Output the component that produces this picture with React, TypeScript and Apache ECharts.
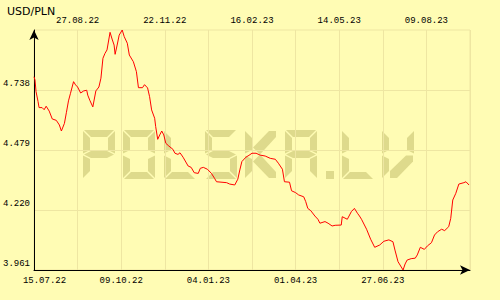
import React, { useEffect, useRef } from "react";
import * as echarts from "echarts";

// ---- data ----
const TITLE = "USD/PLN";
const X_MIN = 0; // day offset of 15.07.22
const X_MAX = 430;
const X_STEP = 43;
const BOTTOM_LABELS = ["15.07.22", "09.10.22", "04.01.23", "01.04.23", "27.06.23"];
const TOP_LABELS = ["27.08.22", "22.11.22", "16.02.23", "14.05.23", "09.08.23"];
const Y_MIN = 3.961;
const Y_MAX = 4.997;
const Y_TICKS = [3.961, 4.22, 4.479, 4.738];
const WATERMARK = "POLSKA.LV";

// [day offset from 15.07.22, USD/PLN rate]
const USD_PLN: [number, number][] = [
  [0, 4.795], [1, 4.781], [2, 4.731], [4, 4.688], [5, 4.662], [8, 4.662], [10, 4.653],
  [12, 4.668], [15, 4.647], [18, 4.613], [22, 4.607], [25, 4.587], [27, 4.561], [30, 4.594],
  [32, 4.642], [34, 4.691], [36, 4.724], [39, 4.774], [41, 4.76], [43, 4.751], [46, 4.725],
  [49, 4.734], [52, 4.737], [53, 4.716], [55, 4.694], [58, 4.665], [61, 4.734], [64, 4.751],
  [66, 4.789], [68, 4.875], [70, 4.896], [72, 4.911], [75, 4.987], [77, 4.958], [79, 4.932],
  [80, 4.892], [82, 4.932], [84, 4.975], [87, 4.997], [89, 4.968], [92, 4.94], [94, 4.889],
  [98, 4.86], [101, 4.817], [103, 4.748], [107, 4.748], [109, 4.761], [112, 4.747], [114, 4.709],
  [116, 4.652], [119, 4.616], [120, 4.58], [122, 4.525], [124, 4.544], [126, 4.561], [128, 4.544],
  [130, 4.508], [133, 4.496], [137, 4.482], [139, 4.465], [142, 4.46], [144, 4.467], [147, 4.448],
  [152, 4.41], [155, 4.404], [158, 4.381], [162, 4.378], [164, 4.4], [167, 4.404], [171, 4.396],
  [175, 4.378], [178, 4.357], [180, 4.342], [190, 4.338], [193, 4.332], [198, 4.328], [201, 4.353],
  [203, 4.393], [205, 4.429], [209, 4.448], [212, 4.456], [215, 4.465], [219, 4.465], [223, 4.457],
  [228, 4.453], [233, 4.443], [238, 4.439], [241, 4.422], [245, 4.396], [247, 4.342], [252, 4.34],
  [254, 4.303], [258, 4.295], [261, 4.285], [266, 4.277], [268, 4.256], [270, 4.227], [273, 4.217],
  [277, 4.194], [280, 4.18], [282, 4.163], [287, 4.17], [290, 4.163], [294, 4.151], [297, 4.154],
  [303, 4.155], [304, 4.191], [309, 4.18], [313, 4.213], [316, 4.227], [319, 4.206], [321, 4.194],
  [323, 4.18], [328, 4.137], [332, 4.094], [336, 4.059], [341, 4.069], [345, 4.085], [350, 4.091],
  [354, 4.083], [356, 4.047], [359, 3.997], [364, 3.961], [366, 3.987], [368, 4.004], [372, 4.01],
  [376, 4.012], [378, 4.026], [381, 4.059], [385, 4.05], [388, 4.065], [392, 4.079], [395, 4.112],
  [398, 4.126], [402, 4.137], [405, 4.131], [409, 4.148], [411, 4.184], [413, 4.263], [416, 4.292],
  [419, 4.332], [424, 4.338], [426, 4.342], [429, 4.328],
];

// ---- style ----
const BG = "#FFFCB4";
const GRID = "#EEE6A2";
const WM = "#DEDA8C";
const MONO = "'Liberation Mono', 'DejaVu Sans Mono', monospace";

// seven-segment watermark
const W = 32, H = 49, T = 7, G = 1, M = H / 2;
const SEGS: Record<string, number[][]> = {
  a: [[G, 0], [W - G, 0], [W - T - G, T], [T + G, T]],
  d: [[G, H], [W - G, H], [W - T - G, H - T], [T + G, H - T]],
  f: [[0, G], [T, T + G], [T, M - T / 2 - G], [0, M - G]],
  b: [[W, G], [W - T, T + G], [W - T, M - T / 2 - G], [W, M - G]],
  e: [[0, M + G], [T, M + T / 2 + G], [T, H - T - G], [0, H - G]],
  c: [[W, M + G], [W - T, M + T / 2 + G], [W - T, H - T - G], [W, H - G]],
  g: [[G, M], [T + G, M - T / 2], [W - T - G, M - T / 2], [W - G, M], [W - T - G, M + T / 2], [T + G, M + T / 2]],
  ku: [[T + 1, M - T], [W - T - 1, 1], [W - 1, 1], [W - 1, T], [2 * T + 1, M]],
  kd: [[T + 1, M + T], [W - T - 1, H - 1], [W - 1, H - 1], [W - 1, H - T], [2 * T + 1, M]],
  vd: [[T + 1, H - 1], [T + 1, H - T - 1], [W - T - 1, M + 1], [W - 1, M + 1], [W - 1, M + T], [2 * T + 1, H - 1]],
  dot: [[0, H - T - 1], [T + 1, H - T - 1], [T + 1, H], [0, H]],
};
const CHAR_SEGS: Record<string, string[]> = {
  P: ["a", "b", "f", "g", "e"],
  O: ["a", "b", "c", "d", "e", "f"],
  L: ["f", "e", "d"],
  S: ["a", "f", "g", "c", "d"],
  K: ["f", "e", "ku", "kd"],
  A: ["a", "b", "c", "e", "f", "g"],
  ".": ["dot"],
  V: ["f", "b", "e", "vd"],
};
const CHAR_X = [83, 123, 164, 205, 245, 285, 326, 342, 382];

function buildWatermark() {
  const children: any[] = [];
  WATERMARK.split("").forEach((ch, i) => {
    const segs = CHAR_SEGS[ch] || [];
    segs.forEach((s) => {
      children.push({
        type: "polygon",
        x: CHAR_X[i],
        y: 130,
        shape: { points: SEGS[s] },
        style: { fill: WM },
        silent: true,
      });
    });
  });
  return [{ type: "group", z: -10, children }];
}

export default function App() {
  const ref = useRef<HTMLDivElement>(null);
  useEffect(() => {
    if (!ref.current) return;
    const chart = echarts.init(ref.current, undefined, { renderer: "svg" });
    const idx = (v: number) => Math.round((v - X_MIN) / X_STEP);
    const option: any = {
      animation: false,
      backgroundColor: BG,
      title: {
        text: TITLE,
        left: 2,
        top: 1,
        textStyle: { fontFamily: "'DejaVu Sans', sans-serif", fontSize: 11, fontWeight: "normal", color: "#000" },
      },
      grid: {
        left: 31, right: 30, top: 30, bottom: 30,
        show: true, borderColor: GRID, borderWidth: 1, backgroundColor: "transparent",
      },
      graphic: buildWatermark(),
      xAxis: [
        {
          type: "value", position: "bottom", min: X_MIN, max: X_MAX, interval: X_STEP,
          axisLine: {
            show: true, onZero: false, lineStyle: { color: "#000", width: 1 },
            symbol: ["none", "arrow"], symbolSize: [7, 10],
          },
          axisTick: { show: false },
          splitLine: { show: true, lineStyle: { color: GRID, width: 1 } },
          axisLabel: {
            margin: 6, fontSize: 9, color: "#000", fontFamily: MONO,
            showMinLabel: true, showMaxLabel: true,
            formatter: (v: number) => {
              const i = idx(v);
              if (i % 2 !== 0) return "";
              const s = BOTTOM_LABELS[i / 2];
              if (!s) return "";
              return i === 0 ? `{first|${s}}` : s;
            },
            rich: { first: { padding: [0, 0, 0, 21], fontSize: 9, fontFamily: MONO, color: "#000" } },
          },
        },
        {
          type: "value", position: "top", min: X_MIN, max: X_MAX, interval: X_STEP,
          axisLine: { show: false }, axisTick: { show: false }, splitLine: { show: false },
          axisLabel: {
            margin: 5, fontSize: 9, color: "#000", fontFamily: MONO,
            formatter: (v: number) => {
              const i = idx(v);
              if (i % 2 !== 1) return "";
              return TOP_LABELS[(i - 1) / 2] || "";
            },
          },
        },
      ],
      yAxis: {
        type: "value", min: Y_MIN, max: Y_MAX,
        axisLine: {
          show: true, onZero: false, lineStyle: { color: "#000", width: 1 },
          symbol: ["none", "arrow"], symbolSize: [7, 10],
        },
        axisTick: { show: false, customValues: Y_TICKS },
        splitLine: { show: true, lineStyle: { color: GRID, width: 1 } },
        axisLabel: {
          customValues: Y_TICKS,
          margin: 4, fontSize: 9, color: "#000", fontFamily: MONO,
          verticalAlign: "bottom", padding: [0, 0, 2, 0],
          formatter: (v: number) => v.toFixed(3),
        },
      },
      series: [
        {
          type: "line", xAxisIndex: 0, yAxisIndex: 0, data: USD_PLN,
          showSymbol: false, symbol: "none", z: 5,
          lineStyle: { color: "#FF0000", width: 1 },
        },
      ],
    };
    chart.setOption(option);
    return () => chart.dispose();
  }, []);
  return (
    <div
      ref={ref}
      style={{ position: "absolute", left: 0, top: 0, width: 500, height: 300 }}
    />
  );
}
